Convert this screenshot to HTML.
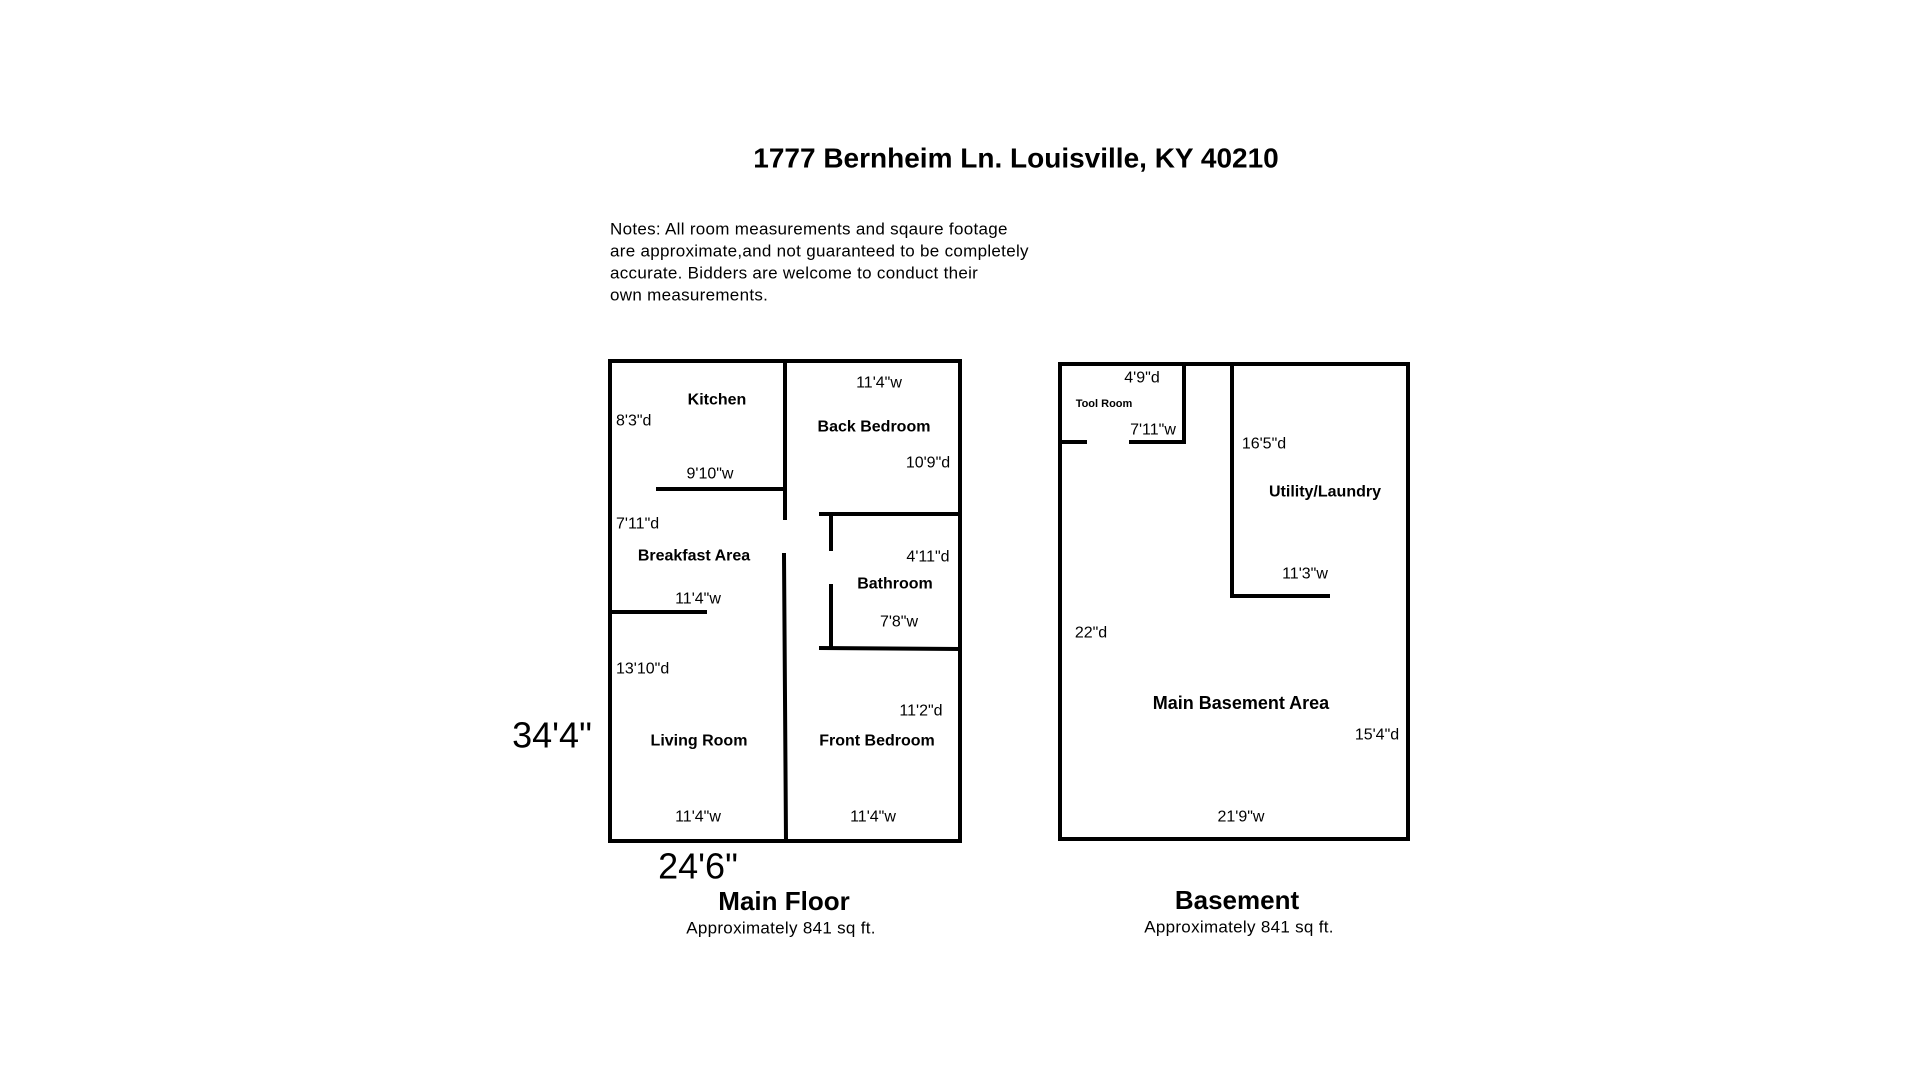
<!DOCTYPE html>
<html><head><meta charset="utf-8"><style>
html,body{margin:0;padding:0;background:#fff;}
svg{display:block;}
text{font-family:"Liberation Sans",sans-serif;fill:#000;}
.b{font-weight:bold;}
</style></head><body>
<svg width="1920" height="1080" viewBox="0 0 1920 1080" xmlns="http://www.w3.org/2000/svg">
<rect width="1920" height="1080" fill="#fff"/>
<text x="1016" y="158" text-anchor="middle" dominant-baseline="central" class="b" font-size="28">1777 Bernheim Ln. Louisville, KY 40210</text>
<g font-size="17" letter-spacing="0.3">
<text x="610" y="229" dominant-baseline="central">Notes: All room measurements and sqaure footage</text>
<text x="610" y="251" dominant-baseline="central">are approximate,and not guaranteed to be completely</text>
<text x="610" y="273" dominant-baseline="central">accurate. Bidders are welcome to conduct their</text>
<text x="610" y="295" dominant-baseline="central">own measurements.</text>
</g>
<g stroke="#000" stroke-width="4" fill="none" stroke-linecap="square">
<rect x="610" y="361" width="350" height="480"/>
<line x1="785" y1="361" x2="785" y2="518"/>
<line x1="784" y1="555" x2="786" y2="841"/>
<line x1="656" y1="489" x2="785" y2="489" stroke-linecap="butt"/>
<line x1="610" y1="612" x2="707" y2="612" stroke-linecap="butt"/>
<line x1="819" y1="514" x2="960" y2="514" stroke-linecap="butt"/>
<line x1="819" y1="648" x2="960" y2="649" stroke-linecap="butt"/>
<line x1="831" y1="514" x2="831" y2="551" stroke-linecap="butt"/>
<line x1="831" y1="584" x2="831" y2="648" stroke-linecap="butt"/>
<rect x="1060" y="364" width="348" height="475"/>
<line x1="1184" y1="364" x2="1184" y2="442"/>
<line x1="1060" y1="442" x2="1087" y2="442" stroke-linecap="butt"/>
<line x1="1129" y1="442" x2="1184" y2="442" stroke-linecap="butt"/>
<line x1="1232" y1="364" x2="1232" y2="596"/>
<line x1="1232" y1="596" x2="1330" y2="596" stroke-linecap="butt"/>
</g>
<g text-anchor="middle" dominant-baseline="central">
<g class="b" font-size="16">
<text x="717" y="400">Kitchen</text>
<text x="874" y="427">Back Bedroom</text>
<text x="694" y="556">Breakfast Area</text>
<text x="895" y="584">Bathroom</text>
<text x="699" y="741">Living Room</text>
<text x="877" y="741">Front Bedroom</text>
<text x="1325" y="492">Utility/Laundry</text>
<text x="1241" y="703" font-size="18">Main Basement Area</text>
<text x="1104" y="404" font-size="11">Tool Room</text>
</g>
<g font-size="16">
<text x="879" y="383">11'4"w</text>
<text x="928" y="463">10'9"d</text>
<text x="710" y="474">9'10"w</text>
<text x="928" y="557">4'11"d</text>
<text x="698" y="599">11'4"w</text>
<text x="899" y="622">7'8"w</text>
<text x="921" y="711">11'2"d</text>
<text x="698" y="817">11'4"w</text>
<text x="873" y="817">11'4"w</text>
<text x="1142" y="378">4'9"d</text>
<text x="1153" y="430">7'11"w</text>
<text x="1264" y="444">16'5"d</text>
<text x="1305" y="574">11'3"w</text>
<text x="1091" y="633">22"d</text>
<text x="1377" y="735">15'4"d</text>
<text x="1241" y="817">21'9"w</text>
</g>
<g font-size="16" text-anchor="start">
<text x="616" y="421">8'3"d</text>
<text x="616" y="524">7'11"d</text>
<text x="616" y="669">13'10"d</text>
</g>
<text x="552" y="735" font-size="36">34'4"</text>
<text x="698" y="866" font-size="36">24'6"</text>
<text x="784" y="901" class="b" font-size="26">Main Floor</text>
<text x="781" y="928" font-size="17" letter-spacing="0.3">Approximately 841 sq ft.</text>
<text x="1237" y="900" class="b" font-size="26">Basement</text>
<text x="1239" y="927" font-size="17" letter-spacing="0.3">Approximately 841 sq ft.</text>
</g>
</svg>
</body></html>
